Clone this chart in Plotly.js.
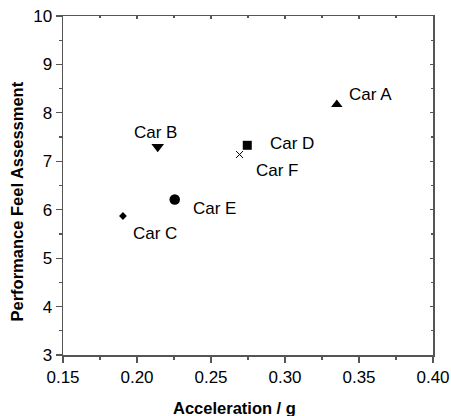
<!DOCTYPE html>
<html>
<head>
<meta charset="utf-8">
<script src="https://cdn.plot.ly/plotly-3.0.1.min.js"></script>
<style>html,body{margin:0;padding:0;background:#fff;}#chart{width:451px;height:416px;}</style>
</head>
<body>
<div id="chart"></div>
<script>
// Data
var cars = ['Car A', 'Car B', 'Car C', 'Car D', 'Car E', 'Car F'];
var acceleration = [0.335, 0.214, 0.1905, 0.2745, 0.2255, 0.2693];
var feel = [8.17, 7.30, 5.87, 7.33, 6.21, 7.14];
var xTickVals = [0.15, 0.20, 0.25, 0.30, 0.35, 0.40];
var xTickText = ['0.15', '0.20', '0.25', '0.30', '0.35', '0.40'];
var yTickVals = [3, 4, 5, 6, 7, 8, 9, 10];

// Styles
var symbols = ['triangle-up', 'triangle-down', 'diamond', 'square', 'circle', 'x-thin'];
var sizes = [10, 11, 6, 9, 10.5, 7];
var labelStyle = [
  {xanchor: 'left', xshift: 10, yshift: 10},
  {xanchor: 'center', xshift: -2, yshift: 14},
  {xanchor: 'left', xshift: 8, yshift: -17},
  {xanchor: 'left', xshift: 21, yshift: 2},
  {xanchor: 'left', xshift: 16, yshift: -8.5},
  {xanchor: 'left', xshift: 14, yshift: -16}
];
var FONT = 'Liberation Sans, Arial, sans-serif';
var axisColor = '#555';

var traces = cars.map(function (c, i) {
  return {
    type: 'scatter', mode: 'markers', name: c,
    x: [acceleration[i]], y: [feel[i]],
    marker: {
      symbol: symbols[i], size: sizes[i], color: '#000',
      line: {color: '#000', width: symbols[i] === 'x-thin' ? 1 : 0}
    },
    hoverinfo: 'x+y+name'
  };
});
// invisible trace to anchor the mirrored (top/right) axes
traces.push({type: 'scatter', mode: 'markers', x: [acceleration[0]], y: [feel[0]],
  xaxis: 'x2', yaxis: 'y2', marker: {opacity: 0}, hoverinfo: 'skip', showlegend: false});

var annotations = cars.map(function (c, i) {
  var s = labelStyle[i];
  return {
    x: acceleration[i], y: feel[i], xref: 'x', yref: 'y',
    text: c, showarrow: false, xanchor: s.xanchor, yanchor: 'middle',
    xshift: s.xshift, yshift: s.yshift,
    font: {family: FONT, size: 17, color: '#000'}
  };
});
annotations.push({
  text: '<b>Acceleration / g</b>', xref: 'paper', yref: 'paper',
  x: 0.5, y: 0, xanchor: 'center', yanchor: 'middle', xshift: -14, yshift: -53,
  showarrow: false, font: {family: FONT, size: 16.5, color: '#000'}
});
annotations.push({
  text: '<b>Performance Feel Assessment</b>', xref: 'paper', yref: 'paper',
  x: 0, y: 0.5, xanchor: 'center', yanchor: 'middle', xshift: -47, yshift: -16,
  textangle: -90, showarrow: false, font: {family: FONT, size: 16.5, color: '#000'}
});

var axisCommon = {
  showgrid: false, zeroline: false, showline: true, linecolor: axisColor, linewidth: 1.5,
  ticks: 'outside', ticklen: 6, tickwidth: 1.2, tickcolor: axisColor,
  tickfont: {family: FONT, size: 17, color: '#000'}
};
var mirrorCommon = {
  showgrid: false, zeroline: false, showline: true, linecolor: axisColor, linewidth: 1.5,
  ticks: 'inside', ticklen: 3, tickwidth: 1.2, tickcolor: axisColor, showticklabels: false
};

var layout = {
  width: 451, height: 416,
  margin: {l: 63, r: 18, t: 16, b: 61, pad: 0},
  paper_bgcolor: '#fff', plot_bgcolor: '#fff',
  showlegend: false,
  xaxis: Object.assign({}, axisCommon, {
    range: [0.15, 0.40], tickvals: xTickVals, ticktext: xTickText,
    minor: {dtick: 0.025, tick0: 0.15, ticks: 'outside', ticklen: 3, tickwidth: 1.2, tickcolor: axisColor, showgrid: false}
  }),
  yaxis: Object.assign({}, axisCommon, {
    range: [3, 10], tickvals: yTickVals,
    minor: {dtick: 0.5, tick0: 3, ticks: 'outside', ticklen: 3, tickwidth: 1.2, tickcolor: axisColor, showgrid: false}
  }),
  xaxis2: Object.assign({}, mirrorCommon, {
    overlaying: 'x', side: 'top', anchor: 'y2', range: [0.15, 0.40], tickvals: xTickVals,
    minor: {dtick: 0.025, tick0: 0.15, ticks: 'inside', ticklen: 2, tickwidth: 1.2, tickcolor: axisColor, showgrid: false}
  }),
  yaxis2: Object.assign({}, mirrorCommon, {
    overlaying: 'y', side: 'right', anchor: 'x2', range: [3, 10], tickvals: yTickVals,
    minor: {dtick: 0.5, tick0: 3, ticks: 'inside', ticklen: 2, tickwidth: 1.2, tickcolor: axisColor, showgrid: false}
  }),
  annotations: annotations,
  font: {family: FONT, color: '#000'}
};

Plotly.newPlot('chart', traces, layout, {staticPlot: true, displayModeBar: false});
</script>
</body>
</html>
